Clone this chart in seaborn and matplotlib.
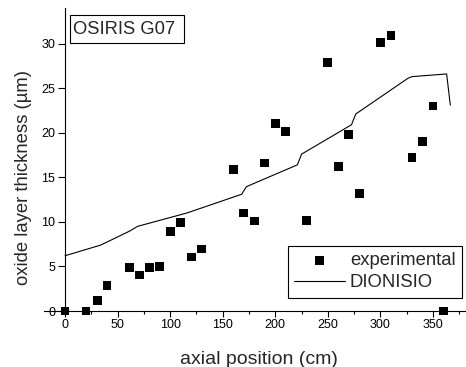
import matplotlib
matplotlib.use("Agg")
import matplotlib.pyplot as plt
from matplotlib.ticker import MultipleLocator
from matplotlib.patches import Rectangle
import seaborn as sns
import pandas as pd

# experimental data
exp_x = [0, 20, 31, 40, 61, 71, 80, 90, 100, 110, 120, 130, 160, 170, 180, 190,
         200, 210, 230, 250, 260, 270, 280, 300, 310, 330, 340, 350, 360]
exp_y = [0, 0, 1.2, 2.9, 4.9, 4.05, 4.9, 5.0, 8.9, 9.9, 6.07, 6.97, 15.9, 11.0, 10.1, 16.6,
         21.0, 20.1, 10.2, 27.9, 16.2, 19.8, 13.2, 30.1, 30.9, 17.2, 19.0, 23.0, 0]

# DIONISIO calculation
dio_x = [0, 34, 62, 69, 116, 168, 172.5, 221, 225, 272.5, 276.5, 326, 330, 363, 366.5]
dio_y = [6.2, 7.4, 9.0, 9.5, 11.0, 13.1, 13.95, 16.4, 17.6, 20.9, 22.1, 26.1, 26.3, 26.6, 23.1]

y_ticks = [0, 5, 10, 15, 20, 25, 30]
x_ticks = [0, 50, 100, 150, 200, 250, 300, 350]

sns.set_style("ticks")
plt.rcParams['font.family'] = ['Liberation Sans', 'DejaVu Sans']

fig = plt.figure(figsize=(4.66, 3.67), dpi=100)
ax = fig.add_axes([0.0944, 0.1477, 0.9024, 0.8305])

df_exp = pd.DataFrame({"x": exp_x, "y": exp_y})
df_dio = pd.DataFrame({"x": dio_x, "y": dio_y})

sns.lineplot(data=df_dio, x="x", y="y", ax=ax, color="black", linewidth=0.8,
             sort=False, label="DIONISIO")
sns.scatterplot(data=df_exp, x="x", y="y", ax=ax, marker="s", s=40, color="black",
                edgecolor="none", label="experimental", clip_on=False, zorder=3)

ax.set_xlim(-20, 380)
ax.set_ylim(-0.2, 34)
ax.spines['left'].set_position(('data', 0))
ax.spines['bottom'].set_position(('data', 0))
ax.spines['top'].set_visible(False)
ax.spines['right'].set_visible(False)
for s in ('left', 'bottom'):
    ax.spines[s].set_linewidth(0.8)
    ax.spines[s].set_color('black')

ax.set_xticks(x_ticks)
ax.set_yticks(y_ticks)
ax.xaxis.set_minor_locator(MultipleLocator(25))
ax.tick_params(axis='x', which='major', direction='out', length=4, width=0.8,
               labelsize=9, colors='black', pad=2)
ax.tick_params(axis='x', which='minor', direction='out', length=2.5, width=0.8, colors='black')
ax.tick_params(axis='y', which='major', direction='out', length=5, width=0.8,
               labelsize=9, colors='black', pad=2)

ax.set_xlabel("axial position (cm)", fontsize=14)
ax.set_ylabel("oxide layer thickness (\u00b5m)", fontsize=13.3)
ax.xaxis.set_label_coords(0.511, -0.126)
ax.yaxis.set_label_coords(-0.0295, 0.444)

handles, labels = ax.get_legend_handles_labels()
order = [labels.index("experimental"), labels.index("DIONISIO")]
leg = ax.legend([handles[i] for i in order], [labels[i] for i in order],
                loc='lower right', bbox_to_anchor=(0.994, 0.049), fontsize=13.3,
                frameon=True, fancybox=False, edgecolor='black', framealpha=1,
                borderpad=0.35, handlelength=2.75, handletextpad=0.27, labelspacing=0.28,
                borderaxespad=0)
leg.get_frame().set_linewidth(0.8)

ax.add_patch(Rectangle((0.0618, 0.885), 0.333 - 0.0618, 0.977 - 0.885,
                       transform=ax.transAxes, facecolor='white', edgecolor='black',
                       linewidth=0.8, zorder=4, clip_on=False))
ax.text(0.069, 0.931, "OSIRIS G07", transform=ax.transAxes, fontsize=13.2,
        ha='left', va='center', zorder=5)

fig.savefig("out.png", dpi=100)
